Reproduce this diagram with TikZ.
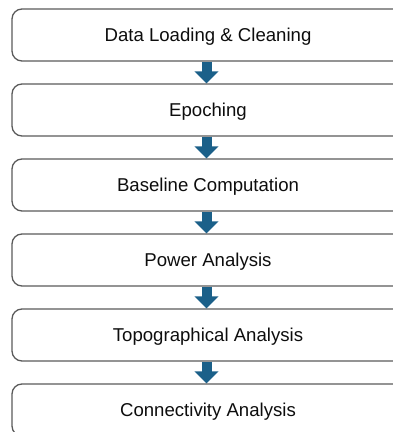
\documentclass[tikz,border=0pt]{standalone}
\usepackage{fontspec}
\setmainfont{Liberation Sans}
\usetikzlibrary{arrows.meta}
\definecolor{stepline}{RGB}{90,90,90}
\definecolor{flowblue}{RGB}{27,96,137}
\tikzset{
  stagebox/.style={draw=stepline, line width=1.3bp, rounded corners=10bp,
    minimum width=392bp, minimum height=52bp, inner sep=0pt,
    text height=13.4bp, text depth=0bp,
    font=\fontsize{18.6bp}{22bp}\selectfont, text=black!95},
  flowarrow/.style={draw=flowblue, line width=10bp,
    -{Triangle[width=23.5bp,length=12bp]}}
}
\begin{document}
\begin{tikzpicture}[x=1bp,y=1bp]
  \useasboundingbox (0,0) rectangle (393,432);
  \clip (0,0) rectangle (393,432);
  % processing stages, top to bottom
  \node[stagebox] (s1) at (208,397) {Data Loading \& Cleaning};
  \node[stagebox] (s2) at (208,322) {Epoching};
  \node[stagebox] (s3) at (208,247) {Baseline Computation};
  \node[stagebox] (s4) at (208,172) {Power Analysis};
  \node[stagebox] (s5) at (208,97)  {Topographical Analysis};
  \node[stagebox] (s6) at (208,22)  {Connectivity Analysis};
  % block arrows between consecutive stages
  \coordinate (ax) at (206.5,0);
  \foreach \a/\b in {s1/s2,s2/s3,s3/s4,s4/s5,s5/s6}
    \draw[flowarrow] (\a.south -| ax) -- (\b.north -| ax);
\end{tikzpicture}
\end{document}
